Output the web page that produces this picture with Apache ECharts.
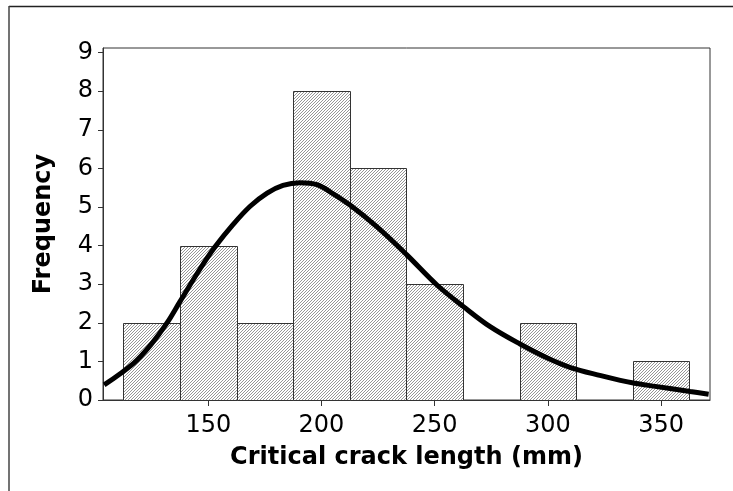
<!DOCTYPE html>
<html>
<head>
<meta charset="utf-8">
<script src="https://cdn.jsdelivr.net/npm/echarts@6/dist/echarts.min.js"></script>
<style>
  html, body { margin: 0; padding: 0; background: #fff; }
  #chart { width: 733px; height: 491px; }
</style>
</head>
<body>
<div id="chart"></div>
<script>
// Histogram bins (mm) and their counts
const binEdges = [112.5, 137.5, 162.5, 187.5, 212.5, 237.5, 262.5, 287.5, 312.5, 337.5, 362.5];
const frequency = [2, 4, 2, 8, 6, 3, 0, 2, 0, 1];

// Fitted distribution curve, sampled points (length mm, expected frequency)
const curveX = [104, 117, 124.5, 131.7, 137.5, 146.4, 153, 161, 168.5, 176, 183, 190.5, 198, 205, 212.6, 224.4, 237.7, 251, 262.7, 274.5, 287.7, 300, 310, 323.4, 332, 337.8, 346.6, 362.8, 371];
const curveY = [0.39, 0.95, 1.42, 1.99, 2.55, 3.40, 3.97, 4.55, 5.02, 5.36, 5.56, 5.63, 5.58, 5.35, 5.05, 4.49, 3.76, 2.98, 2.42, 1.90, 1.45, 1.08, 0.84, 0.63, 0.51, 0.44, 0.36, 0.22, 0.15];

// Axis ticks
const xTicks = [150, 200, 250, 300, 350];
const yTicks = [0, 1, 2, 3, 4, 5, 6, 7, 8, 9];

const xTitle = 'Critical crack length (mm)';
const yTitle = 'Frequency';

// Diagonal hatch fill for the bars
function hatchPattern() {
  const c = document.createElement('canvas');
  c.width = 3; c.height = 3;
  const ctx = c.getContext('2d');
  const img = ctx.createImageData(3, 3);
  for (let i = 0; i < 9; i++) {
    img.data[i * 4] = 255; img.data[i * 4 + 1] = 255; img.data[i * 4 + 2] = 255; img.data[i * 4 + 3] = 255;
  }
  for (let i = 0; i < 3; i++) {
    const x = 2 - i, y = i;
    const k = (y * 3 + x) * 4;
    img.data[k] = 150; img.data[k + 1] = 150; img.data[k + 2] = 150;
  }
  ctx.putImageData(img, 0, 0);
  return c;
}
const hatch = hatchPattern();

const barData = frequency.map((f, i) => [binEdges[i], binEdges[i + 1], f]);
const curveData = curveX.map((x, i) => [x, curveY[i]]);

const chart = echarts.init(document.getElementById('chart'), null, { renderer: 'canvas' });
const font = 'DejaVu Sans';

chart.setOption({
  animation: false,
  backgroundColor: '#fff',
  grid: {
    left: 103, top: 48, right: 23, bottom: 91,
    show: true, borderColor: '#333', borderWidth: 1, backgroundColor: 'transparent'
  },
  xAxis: {
    type: 'value',
    min: 103.5, max: 371.6,
    name: xTitle,
    nameLocation: 'middle',
    nameGap: 46,
    nameTextStyle: { fontFamily: font, fontWeight: 'bold', fontSize: 24, color: '#000' },
    axisLine: { lineStyle: { color: '#333', width: 1 } },
    axisTick: { show: true, length: 6, customValues: xTicks, lineStyle: { color: '#333' } },
    axisLabel: { customValues: xTicks, margin: 14, fontFamily: font, fontSize: 24, color: '#000' },
    splitLine: { show: false }
  },
  yAxis: {
    type: 'value',
    min: 0, max: 9.12,
    name: yTitle,
    nameLocation: 'middle',
    nameGap: 47,
    nameTextStyle: { fontFamily: font, fontWeight: 'bold', fontSize: 24, color: '#000' },
    axisLine: { show: true, lineStyle: { color: '#333', width: 1 } },
    axisTick: { show: true, length: 5, customValues: yTicks, lineStyle: { color: '#333' } },
    axisLabel: { customValues: yTicks, margin: 10, fontFamily: font, fontSize: 24, color: '#000' },
    splitLine: { show: false }
  },
  graphic: [
    { type: 'line', shape: { x1: 9, y1: 6.5, x2: 733, y2: 6.5 }, style: { stroke: '#222', lineWidth: 1.5 }, silent: true },
    { type: 'line', shape: { x1: 9, y1: 6, x2: 9, y2: 491 }, style: { stroke: '#444', lineWidth: 1.5 }, silent: true }
  ],
  series: [
    {
      type: 'custom',
      data: barData,
      encode: { x: [0, 1], y: 2 },
      renderItem: function (params, api) {
        const f = api.value(2);
        if (!f) return null;
        const p0 = api.coord([api.value(0), f]);
        const p1 = api.coord([api.value(1), 0]);
        return {
          type: 'rect',
          shape: { x: Math.round(p0[0]) + 0.5, y: Math.round(p0[1]) + 0.5, width: Math.round(p1[0]) - Math.round(p0[0]), height: Math.round(p1[1]) - Math.round(p0[1]) },
          style: { fill: { image: hatch, repetition: 'repeat' }, stroke: '#333', lineWidth: 1 }
        };
      },
      z: 2
    },
    {
      type: 'line',
      data: curveData,
      smooth: 0.35,
      symbol: 'none',
      lineStyle: { color: '#000', width: 5 },
      z: 3
    }
  ]
});
</script>
</body>
</html>
